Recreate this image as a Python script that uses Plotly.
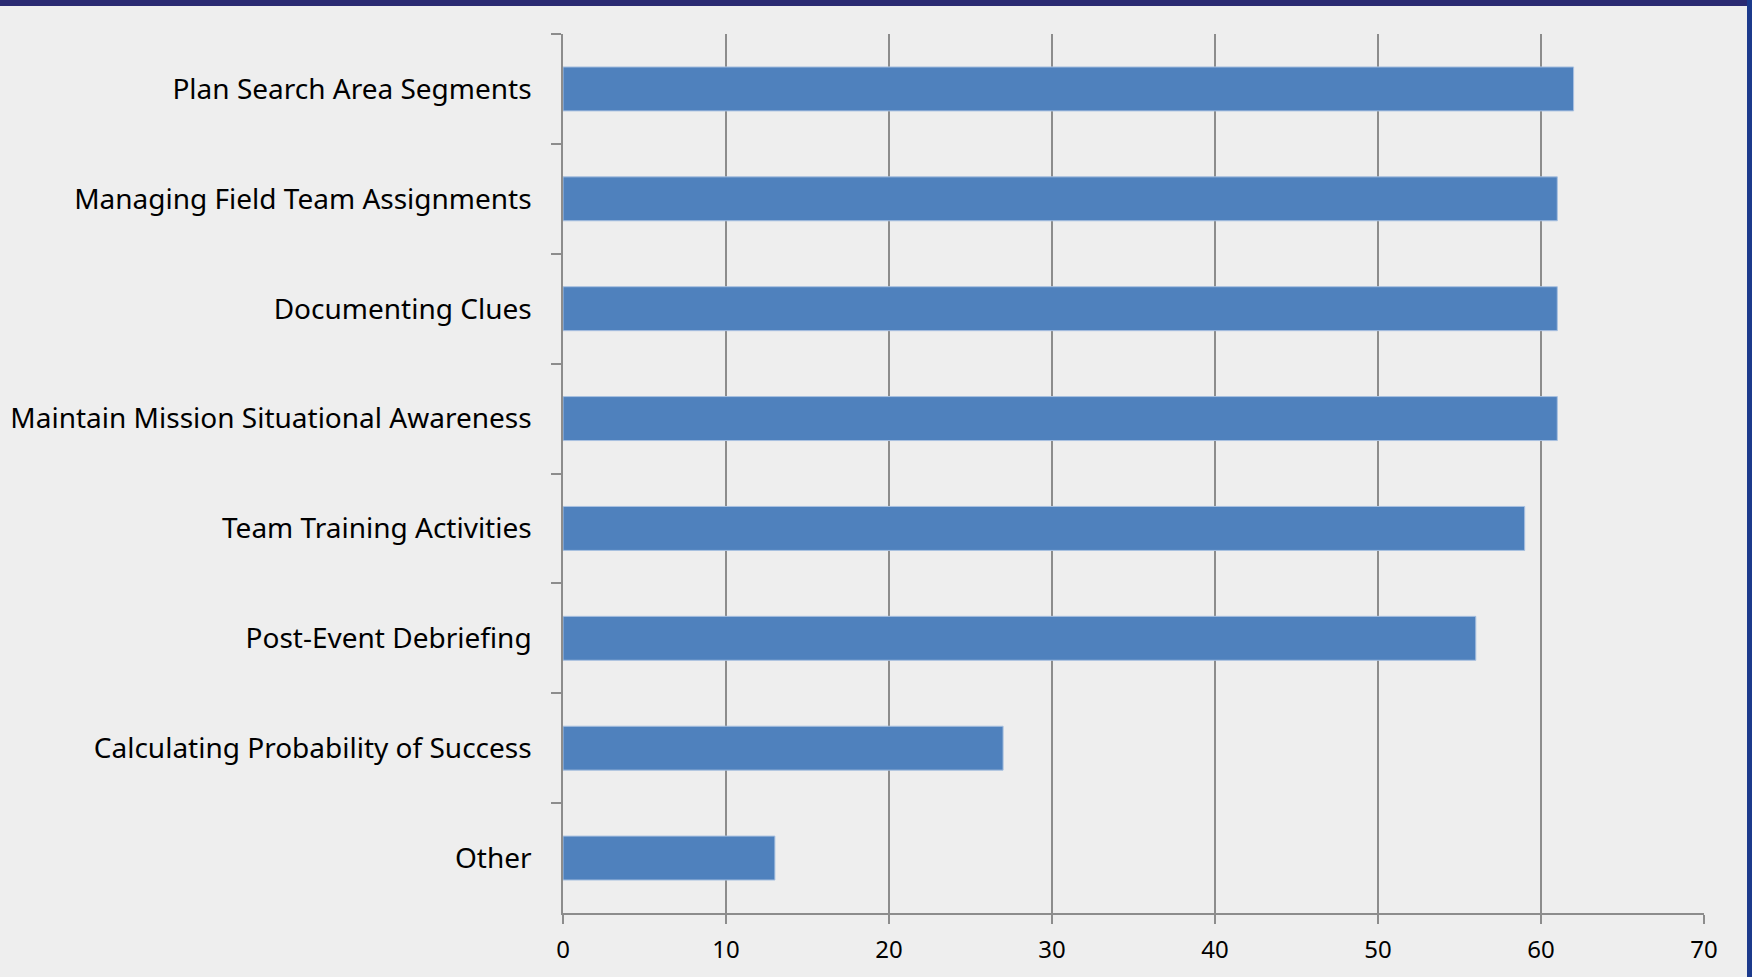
import plotly.graph_objects as go

categories = [
    "Plan Search Area Segments",
    "Managing Field Team Assignments",
    "Documenting Clues",
    "Maintain Mission Situational Awareness",
    "Team Training Activities",
    "Post-Event Debriefing",
    "Calculating Probability of Success",
    "Other",
]
values = [62, 61, 61, 61, 59, 56, 27, 13]
x_ticks = [0, 10, 20, 30, 40, 50, 60, 70]

W, H = 1752, 977
L, R, T, B = 563, 48, 34, 64
pw = W - L - R
ph = H - T - B

fig = go.Figure(
    go.Bar(
        y=categories,
        x=values,
        orientation="h",
        marker=dict(color="#4F81BD", line=dict(color="#A9C1E0", width=1)),
        width=0.4,
        hoverinfo="x+y",
    )
)

grid = "#8C8C8C"
font = "Noto Sans, Open Sans, sans-serif"

fig.update_layout(
    width=W,
    height=H,
    margin=dict(l=L, r=R, t=T, b=B, pad=0, autoexpand=False),
    paper_bgcolor="#EEEEEE",
    plot_bgcolor="#EEEEEE",
    showlegend=False,
    font=dict(family=font, color="#000000"),
    xaxis=dict(
        range=[0, 70],
        tickvals=x_ticks,
        ticktext=[str(v) for v in x_ticks],
        showgrid=True,
        gridcolor=grid,
        gridwidth=1.5,
        zeroline=False,
        showline=True,
        linecolor=grid,
        linewidth=1.5,
        ticks="outside",
        ticklen=9,
        tickwidth=1.5,
        tickcolor=grid,
        tickfont=dict(size=24, family=font),
        ticklabelstandoff=5,
        automargin=False,
        fixedrange=True,
    ),
    yaxis=dict(
        categoryorder="array",
        categoryarray=categories,
        autorange="reversed",
        showgrid=False,
        zeroline=False,
        showline=True,
        linecolor=grid,
        linewidth=1.5,
        ticks="outside",
        tickson="boundaries",
        ticklen=10,
        tickwidth=1.5,
        tickcolor=grid,
        tickfont=dict(size=28, family=font),
        ticklabelstandoff=24,
        automargin=False,
        fixedrange=True,
    ),
    shapes=[
        dict(
            type="rect", xref="paper", yref="paper",
            x0=-L / pw - 0.01, x1=1 + (R + 5) / pw,
            y0=1 + (T - 6) / ph, y1=1 + (T + 5) / ph,
            fillcolor="#2A2A72", line=dict(width=0), layer="above",
        ),
        dict(
            type="rect", xref="paper", yref="paper",
            x0=1 + (R - 5) / pw, x1=1 + (R + 5) / pw,
            y0=-B / ph - 0.01, y1=1 + (T + 5) / ph,
            fillcolor="#1C3A8C", line=dict(width=0), layer="above",
        ),
    ],
)

fig.write_html(
    "out.html",
    config={"displayModeBar": False},
    post_script="document.body.style.margin='0';document.body.style.overflow='hidden';",
)
